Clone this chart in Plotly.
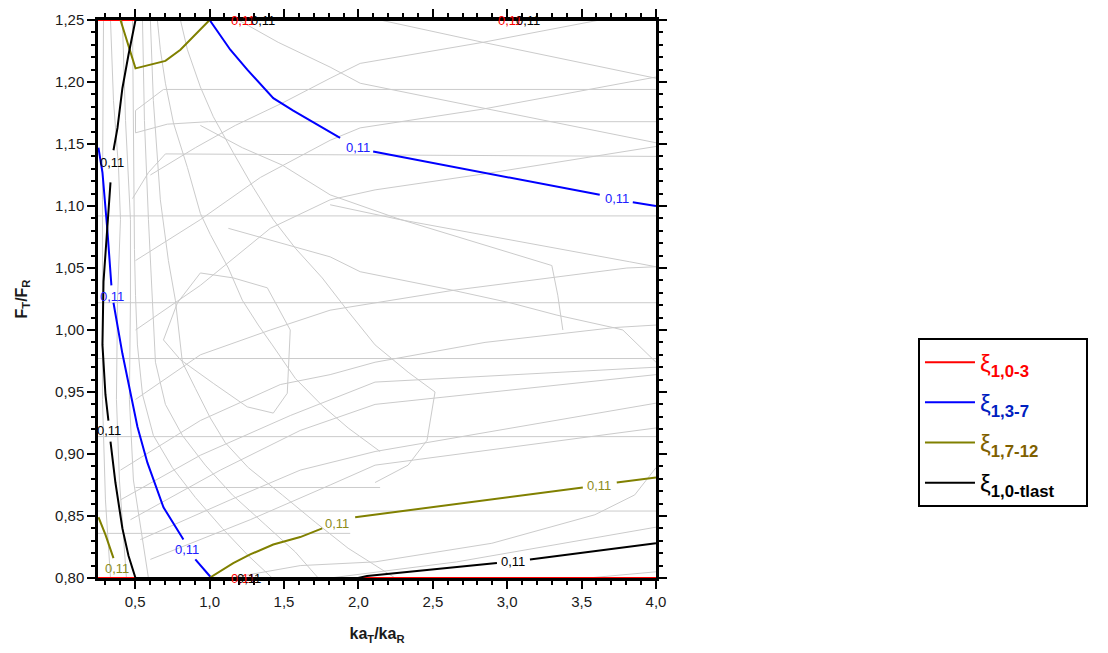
import plotly.graph_objects as go

def join(*segs):
    out = []
    for i, s in enumerate(segs):
        if i:
            out.append(None)
        out.extend(s)
    return out

# ---------------- highlighted 0.11 contours ----------------
red_x = [0.25, 4.0, None, 0.25, 4.0]
red_y = [1.25, 1.25, None, 0.80, 0.80]

blue_x = [1.0, 1.139, 1.253, 1.428, 1.562, 1.877, None, 2.099, 2.837, 3.622, None, 3.844, 4.0, None,
          0.253, 0.28, 0.314, 0.34, None, 0.354, 0.414, 0.515, 0.582, 0.69, 0.824, None, 0.904, 1.005]
blue_y = [1.25, 1.226, 1.210, 1.187, 1.177, 1.155, None, 1.144, 1.127, 1.109, None, 1.103, 1.100, None,
          1.147, 1.127, 1.079, 1.036, None, 1.022, 0.981, 0.922, 0.893, 0.857, 0.831, None, 0.815, 0.801]

olive_x = [0.401, 0.502, 0.703, 0.804, 1.0, None, 0.253, 0.30, 0.354, None,
           0.998, 1.159, 1.273, 1.428, 1.609, 1.757, None, 1.978, 3.508, None, 3.736, 4.0]
olive_y = [1.25, 1.211, 1.217, 1.226, 1.25, None, 0.849, 0.835, 0.816, None,
           0.80, 0.812, 0.819, 0.827, 0.833, 0.840, None, 0.849, 0.873, None, 0.877, 0.881]

black_x = [4.0, 0.502, 0.455, 0.414, 0.381, 0.354, None, 0.334, 0.314, 0.287, 0.280, 0.300, 0.320, None,
           0.334, 0.367, 0.414, 0.455, 0.502, 1.998, 2.058, 2.931, None, 3.153, 4.0]
black_y = [1.25, 1.25, 1.222, 1.195, 1.163, 1.145, None, 1.119, 1.082, 1.039, 0.988, 0.948, 0.927, None,
           0.910, 0.877, 0.840, 0.818, 0.80, 0.80, 0.8016, 0.812, None, 0.815, 0.828]

# contour labels "0,11"
red_lab_x = [1.226, 3.018, 1.226, 3.01]
red_lab_y = [1.25, 1.25, 0.80, 0.799]
blue_lab_x = [2.0, 3.74, 0.347, 0.851]
blue_lab_y = [1.147, 1.106, 1.027, 0.823]
olive_lab_x = [0.38, 1.857, 3.616]
olive_lab_y = [0.808, 0.844, 0.875]
black_lab_x = [1.361, 3.139, 1.267, 0.347, 0.327, 3.04]
black_lab_y = [1.25, 1.25, 0.80, 1.135, 0.919, 0.813]

# ---------------- grey contours (other levels) ----------------
gray_horiz_x = join([4.0, 0.690, 0.502, 0.502, 0.716, 0.992, 4.0],
                    [4.0, 0.703, 0.589, 0.482],
                    [0.25, 4.0], [0.25, 4.0], [0.25, 4.0], [0.25, 4.0], [0.25, 4.0],
                    [0.25, 1.945], [0.502, 2.146])
gray_horiz_y = join([1.194, 1.194, 1.177, 1.159, 1.166, 1.168, 1.168],
                    [1.140, 1.142, 1.127, 1.106],
                    [1.092, 1.092], [1.022, 1.022], [0.977, 0.977], [0.914, 0.914], [0.854, 0.854],
                    [0.836, 0.836], [0.873, 0.873])

gray_rising_x = join([0.602, 0.904, 1.173, 1.488, 1.810, 2.012, 2.837, 3.622],
                     [0.502, 0.938, 1.341, 1.810, 2.012, 2.830, 4.0],
                     [0.502, 0.938, 1.408, 1.810, 2.112, 2.851, 4.0],
                     [0.502, 0.938, 1.408, 1.810, 2.636, 3.804, 4.0],
                     [0.401, 0.938, 1.475, 1.810, 2.112, 2.851, 3.723, 4.0],
                     [0.401, 0.938, 1.542, 2.112, 4.0],
                     [0.468, 1.072, 1.609, 2.112, 4.0],
                     [0.535, 1.139, 1.609, 2.112, 4.0],
                     [0.602, 1.273, 1.810, 2.112, 4.0],
                     [1.139, 1.609, 2.112, 2.897, 3.589, 3.857, 4.0],
                     [1.810, 2.661, 4.0],
                     [3.542, 4.0])
gray_rising_y = join([1.125, 1.147, 1.165, 1.183, 1.203, 1.215, 1.232, 1.25],
                     [1.056, 1.089, 1.123, 1.153, 1.163, 1.178, 1.204],
                     [1.0, 1.036, 1.082, 1.105, 1.113, 1.126, 1.148],
                     [0.944, 0.980, 1.0, 1.016, 1.032, 1.050, 1.051],
                     [0.887, 0.927, 0.956, 0.964, 0.974, 0.990, 1.002, 1.004],
                     [0.863, 0.899, 0.931, 0.958, 0.970],
                     [0.847, 0.887, 0.919, 0.940, 0.964],
                     [0.831, 0.863, 0.887, 0.902, 0.941],
                     [0.815, 0.847, 0.875, 0.891, 0.921],
                     [0.80, 0.810, 0.813, 0.828, 0.851, 0.867, 0.889],
                     [0.80, 0.813, 0.841],
                     [0.80, 0.805])

gray_falling_x = join([2.146, 2.837, 4.0],
                      [1.193, 1.461, 1.810, 2.012, 2.837, 4.0],
                      [0.938, 1.220, 1.488, 1.810, 2.260, 2.730, 3.300, 3.340, 3.374],
                      [1.810, 2.280, 3.824, 4.0],
                      [1.126, 1.810, 2.012, 2.636, 3.018, 3.334, 3.710, 3.777, 4.0])
gray_falling_y = join([1.25, 1.232, 1.203],
                      [1.25, 1.232, 1.212, 1.199, 1.179, 1.151],
                      [1.165, 1.147, 1.133, 1.109, 1.090, 1.073, 1.052, 1.028, 1.0],
                      [1.101, 1.089, 1.055, 1.051],
                      [1.082, 1.059, 1.047, 1.032, 1.022, 1.012, 1.002, 1.0, 0.974])

gray_arc_x = join([0.287, 0.280, 0.280, 0.300, 0.334],
                  [0.334, 0.354, 0.388, 0.401, 0.381, 0.374, 0.394, 0.441],
                  [0.414, 0.435, 0.468, 0.468, 0.461, 0.488, 0.589],
                  [0.482, 0.488, 0.495, 0.502, 0.515, 0.549, 0.622, 0.750, 0.904, 1.086, 1.260, 1.421],
                  [0.549, 0.562, 0.589, 0.616, 0.636, 0.703, 0.817, 0.971, 1.153, 1.374, 1.576, 1.730],
                  [0.602, 0.622, 0.669, 0.723, 0.770, 0.817, 0.904, 1.005, 1.106, 1.260, 1.488, 1.710,
                   1.931, 2.146, 2.247],
                  [0.649, 0.669, 0.703, 0.757, 0.851, 0.938, 1.005, 1.126, 1.220, 1.327, 1.421, 1.576,
                   1.757, 1.931, 2.146],
                  [0.804, 0.851, 0.938, 1.025, 1.159, 1.293, 1.428, 1.576, 1.757, 1.931, 2.112, 2.334,
                   2.515, 2.461, 2.334, 2.112])
gray_arc_y = join([1.25, 1.105, 0.944, 0.863, 0.80],
                  [1.25, 1.185, 1.131, 1.089, 1.024, 0.944, 0.879, 0.80],
                  [1.25, 1.169, 1.089, 1.024, 0.944, 0.879, 0.80],
                  [1.25, 1.145, 1.065, 1.028, 0.988, 0.948, 0.915, 0.889, 0.865, 0.840, 0.818, 0.80],
                  [1.25, 1.169, 1.089, 1.028, 0.974, 0.940, 0.915, 0.891, 0.867, 0.843, 0.821, 0.80],
                  [1.25, 1.185, 1.105, 1.056, 1.024, 0.974, 0.953, 0.929, 0.909, 0.889, 0.867, 0.845,
                   0.824, 0.808, 0.80],
                  [1.25, 1.226, 1.199, 1.167, 1.131, 1.094, 1.077, 1.050, 1.024, 1.004, 0.988, 0.961,
                   0.939, 0.921, 0.902],
                  [1.25, 1.226, 1.196, 1.172, 1.143, 1.115, 1.089, 1.066, 1.042, 1.015, 0.988, 0.966,
                   0.950, 0.911, 0.891, 0.877])

gray_loop_x = [0.784, 0.938, 1.159, 1.388, 1.542, 1.522, 1.428, 1.253, 1.025, 0.804, 0.690, 0.784]
gray_loop_y = [1.022, 1.046, 1.042, 1.034, 1.0, 0.949, 0.933, 0.938, 0.957, 0.976, 0.992, 1.022]

FONT = "Liberation Sans, Arial, sans-serif"
GRAY = "#cbcbcb"

fig = go.Figure()
for gx, gy in [(gray_horiz_x, gray_horiz_y), (gray_rising_x, gray_rising_y),
               (gray_falling_x, gray_falling_y), (gray_arc_x, gray_arc_y),
               (gray_loop_x, gray_loop_y)]:
    fig.add_trace(go.Scatter(x=gx, y=gy, mode="lines", line=dict(color=GRAY, width=1),
                             showlegend=False, hoverinfo="skip", connectgaps=False))

series = [
    (red_x, red_y, "#ff0000", "#ff0000", "1,0-3", "r", ""),
    (blue_x, blue_y, "#0000ff", "#0020c0", "1,3-7", "b", ""),
    (olive_x, olive_y, "#808000", "#7f6000", "1,7-12", "o", ""),
    (black_x, black_y, "#000000", "#000000", "1,0-tlast", "k", "&nbsp;" * 4),
]
for sx, sy, lc, tc, sub, grp, pad in series:
    fig.add_trace(go.Scatter(
        x=sx, y=sy, mode="lines", line=dict(color=lc, width=2), connectgaps=False,
        legendgroup=grp,
        name=f'<span style="color:{tc}">ξ<b><sub>{sub}</sub></b></span>{pad}'))

annotations = []
for lx, ly, col in [(red_lab_x, red_lab_y, "#ff0000"), (blue_lab_x, blue_lab_y, "#2020ff"),
                    (olive_lab_x, olive_lab_y, "#8c8c1a"), (black_lab_x, black_lab_y, "#000000")]:
    for a, b in zip(lx, ly):
        annotations.append(dict(x=a, y=b, xref="x", yref="y", text="0,11", showarrow=False,
                                font=dict(family=FONT, size=13, color=col)))

axis_common = dict(ticks="outside", ticklen=8, tickwidth=2, tickcolor="black",
                   showline=True, linewidth=2.5, linecolor="black", mirror="allticks",
                   showgrid=False, zeroline=False, layer="below traces",
                   tickfont=dict(family=FONT, size=15, color="#1a1a1a"))

fig.update_layout(
    width=1108, height=653,
    margin=dict(l=98, r=452, t=20, b=75, autoexpand=False),
    paper_bgcolor="white", plot_bgcolor="white",
    separators=", ",
    annotations=annotations,
    xaxis=dict(range=[0.25, 4.0], tick0=0.5, dtick=0.5, tickformat=".1f",
               minor=dict(ticks="outside", ticklen=4, tickwidth=1.5, tickcolor="black", dtick=0.1, tick0=0),
               title=dict(text="<b>ka<sub>T</sub>/ka<sub>R</sub></b>",
                          font=dict(family=FONT, size=16, color="#1a1a1a"), standoff=20),
               **axis_common),
    yaxis=dict(range=[0.80, 1.25], tick0=0.80, dtick=0.05, tickformat=".2f",
               minor=dict(ticks="outside", ticklen=4, tickwidth=1.5, tickcolor="black", dtick=0.01, tick0=0.8),
               title=dict(text="<b>F<sub>T</sub>/F<sub>R</sub></b>",
                          font=dict(family=FONT, size=16, color="#1a1a1a"), standoff=24),
               **axis_common),
    showlegend=True,
    legend=dict(x=1.4695, y=0.43, xanchor="left", yanchor="top",
                bordercolor="black", borderwidth=2, bgcolor="white",
                font=dict(family=FONT, size=24, color="black"),
                itemwidth=50, tracegroupgap=6),
)

fig.write_html("out.html")
